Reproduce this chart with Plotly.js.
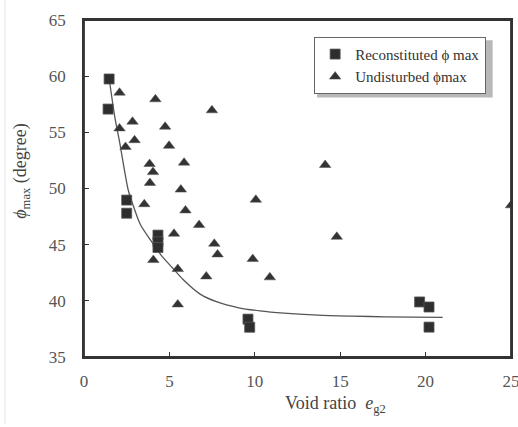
<!DOCTYPE html>
<html>
<head>
<meta charset="utf-8">
<script src="https://cdn.plot.ly/plotly-3.0.1.min.js"></script>
<style>html,body{margin:0;padding:0;background:#fff;}#chart{width:518px;height:427px;}</style>
</head>
<body>
<div id="chart"></div>
<script>
// Reconstituted phi max (squares)
var reconX = [1.47, 1.41, 2.5, 2.5, 4.33, 4.33, 4.33, 9.6, 9.7, 19.65, 20.2, 20.2];
var reconY = [59.75, 57.07, 48.97, 47.8, 45.85, 45.25, 44.75, 38.37, 37.65, 39.9, 39.45, 37.66];

// Undisturbed phi max (triangles)
var undX = [2.08, 2.08, 2.84, 2.96, 2.43, 4.18, 4.75, 4.98, 3.84, 4.04, 3.86, 5.86, 5.67, 7.49, 3.53, 5.94, 10.06,
            6.74, 5.27, 7.63, 7.82, 4.06, 5.49, 7.16, 5.49, 9.88, 14.12, 14.8, 10.88, 25.0];
var undY = [58.53, 55.35, 55.95, 54.3, 53.7, 57.94, 55.5, 53.8, 52.18, 51.46, 50.49, 52.3, 49.9, 56.96, 48.6, 48.05, 49.0,
            46.75, 45.97, 45.08, 44.13, 43.63, 42.83, 42.17, 39.68, 43.72, 52.09, 45.7, 42.09, 48.5];

// Fitted trend curve
var fitX = [1.5, 1.8, 2.1, 2.6, 2.9, 3.3, 3.9, 4.5, 5.2, 5.8, 6.8, 7.8, 9.0, 10.3, 11.7, 13.7, 15.7, 17.6, 21.0];
var fitY = [59.5, 56.4, 54.0, 49.8, 48.4, 46.8, 45.4, 44.1, 42.9, 41.9, 40.6, 39.9, 39.4, 39.1, 38.9, 38.73, 38.64, 38.58, 38.52];

var xTicks = [0, 5, 10, 15, 20, 25];
var yTicks = [35, 40, 45, 50, 55, 60, 65];

var serif = 'Liberation Serif';

var traces = [
  {x: fitX, y: fitY, mode: 'lines', type: 'scatter', line: {color: '#555', width: 1.3, shape: 'spline', smoothing: 0.8},
   showlegend: false, hoverinfo: 'skip'},
  {x: reconX, y: reconY, mode: 'markers', type: 'scatter', name: 'Reconstituted ϕ max',
   marker: {symbol: 'square', size: 10, color: '#2e2e2e', line: {color: '#555', width: 0.8}}},
  {x: undX, y: undY, mode: 'markers', type: 'scatter', name: 'Undisturbed ϕmax',
   marker: {symbol: 'triangle-up', size: 10, color: '#333', line: {color: '#555', width: 0.5}}}
];

var layout = {
  width: 518, height: 427,
  margin: {l: 84, r: 7, t: 20, b: 70},
  paper_bgcolor: '#fff', plot_bgcolor: '#fff',
  font: {family: serif, color: '#444', size: 16},
  xaxis: {range: [0, 25], tickvals: xTicks, ticktext: xTicks.map(String), ticks: 'inside', ticklen: 5, tickwidth: 1.3,
          tickcolor: '#333', showline: true, linecolor: '#333', linewidth: 1.8, mirror: true, showgrid: false,
          zeroline: false, ticklabeloverflow: 'allow', ticklabelstandoff: 8,
          tickfont: {family: serif, size: 17, color: '#555'}},
  yaxis: {range: [35, 65], tickvals: yTicks, ticktext: yTicks.map(String), ticks: 'inside', ticklen: 5, tickwidth: 1.3,
          tickcolor: '#333', showline: true, linecolor: '#333', linewidth: 1.8, mirror: true, showgrid: false,
          zeroline: false, ticklabeloverflow: 'allow', ticklabelstandoff: 13,
          tickfont: {family: serif, size: 17, color: '#555'}},
  showlegend: true,
  legend: {x: 0.539, y: 0.95, xanchor: 'left', yanchor: 'top', bgcolor: '#fff', bordercolor: '#666', borderwidth: 1,
           font: {family: serif, size: 15, color: '#333'}, tracegroupgap: 0, itemwidth: 30},
  shapes: [
    {type: 'line', xref: 'paper', yref: 'paper', x0: -0.185, x1: -0.185, y0: -0.2, y1: 1.06, line: {color: '#e4e4e4', width: 1}},
    {type: 'rect', xref: 'paper', yref: 'paper', x0: 0, x1: 1, y0: 0, y1: 1, line: {color: '#333', width: 1.8}, layer: 'below'},
    {type: 'rect', xref: 'paper', yref: 'paper', x0: 0.546, x1: 0.957, y0: 0.77, y1: 0.94, fillcolor: '#b8b8b8', line: {width: 0}, layer: 'above'}
  ],
  annotations: [
    {xref: 'paper', yref: 'paper', x: 0.588, y: -0.142, text: 'Void ratio  <i>e</i><sub>g2</sub>', showarrow: false,
     font: {family: serif, size: 18, color: '#444'}, xanchor: 'center', yanchor: 'middle'},
    {xref: 'paper', yref: 'paper', x: -0.145, y: 0.55, text: '<i>ϕ</i><sub>max</sub> (degree)', showarrow: false,
     textangle: -90, font: {family: serif, size: 18, color: '#444'}, xanchor: 'center', yanchor: 'middle'}
  ]
};

Plotly.newPlot('chart', traces, layout, {displayModeBar: false, staticPlot: true});
</script>
</body>
</html>
